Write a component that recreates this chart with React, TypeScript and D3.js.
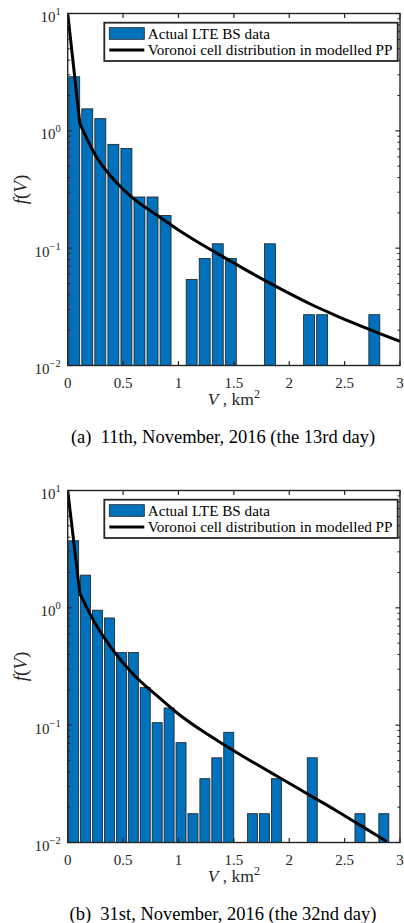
import * as d3 from 'd3'

// bin widths of the two histograms, km^2
const binWidthA = 0.1178
const binWidthB = 0.1077

// histogram densities, one value per bin starting at V = 0 (0 = empty bin)
const densityA = [
  2.89, 1.54, 1.27, 0.767, 0.709, 0.273, 0.273, 0.19, 0, 0.0542, 0.0817, 0.109,
  0.0817, 0, 0, 0.109, 0, 0, 0.0271, 0.0271, 0, 0, 0, 0.0271,
]
const densityB = [
  3.73, 1.9, 0.955, 0.82, 0.416, 0.416, 0.209, 0.105, 0.14, 0.071, 0.0176, 0.035,
  0.0527, 0.087, 0, 0.0176, 0.0176, 0.035, 0, 0, 0.0527, 0, 0, 0, 0.0176, 0, 0.0176,
]

// modelled Voronoi cell pdf
const curveAV = [0, 0.11, 0.25, 0.38, 0.5, 0.6, 0.8, 1.0, 1.2, 1.4, 1.6, 1.8, 2.0, 2.2, 2.4, 2.6, 2.8, 3.0]
const curveAF = [10, 1.15, 0.62, 0.42, 0.318, 0.262, 0.193, 0.143, 0.109, 0.0847, 0.066, 0.0519, 0.0412, 0.0331, 0.0272, 0.0226, 0.019, 0.0161]
const curveBV = [0, 0.11, 0.25, 0.4, 0.6, 0.8, 1.0, 1.2, 1.4, 1.6, 1.8, 2.0, 2.2, 2.4, 2.6, 2.8, 2.88]
const curveBF = [10, 1.32, 0.73, 0.447, 0.266, 0.18, 0.1245, 0.0912, 0.0692, 0.0531, 0.0412, 0.032, 0.0248, 0.0193, 0.0148, 0.01135, 0.0102]

const xTicks = [0, 0.5, 1, 1.5, 2, 2.5, 3]
const xTickLabels = ['0', '0.5', '1', '1.5', '2', '2.5', '3']
const yTicks = [1e-2, 1e-1, 1, 10]
const yTickExp = ['-2', '-1', '0', '1']

const legendLabels = ['Actual LTE BS data', 'Voronoi cell distribution in modelled PP']
const captions = [
  '(a)\u00a0\u00a011th, November, 2016 (the 13rd day)',
  '(b)\u00a0\u00a031st, November, 2016 (the 32nd day)',
]

const FONT = "'Liberation Serif', 'Times New Roman', serif"
const BLUE = '#0072BD'
const AXIS = '#262626'

interface PanelProps {
  top: number
  density: number[]
  binWidth: number
  curveV: number[]
  curveF: number[]
  caption: string
  id: string
}

const left = 67.7
const right = 400
const plotH = 352

function Panel({ top, density, binWidth, curveV, curveF, caption, id }: PanelProps) {
  const bottom = top + plotH
  const x = d3.scaleLinear().domain([0, 3]).range([left, right])
  const y = d3.scaleLog().domain([1e-2, 10]).range([bottom, top])

  const minor: number[] = []
  for (let e = -2; e < 1; e++) {
    for (let m = 2; m <= 9; m++) minor.push(m * Math.pow(10, e))
  }

  const pts = curveV.map((v, i) => [v, curveF[i]] as [number, number])
  // steep first step is straight, the tail is smooth
  const straight = d3.line<[number, number]>().x(d => x(d[0])).y(d => y(d[1]))
  const smooth = d3.line<[number, number]>()
    .x(d => x(d[0]))
    .y(d => y(d[1]))
    .curve(d3.curveMonotoneX)

  const barW = binWidth * 0.84
  const midY = (top + bottom) / 2
  const lx = left + 36.6
  const ly = top + 9.2

  return (
    <g>
      <defs>
        <clipPath id={`clip-${id}`}>
          <rect x={left} y={top} width={right - left} height={plotH} />
        </clipPath>
      </defs>
      {/* bars */}
      {density.map((d, i) => {
        if (d <= 0) return null
        const c = (i + 0.5) * binWidth
        return (
          <rect
            key={i}
            x={x(c - barW / 2)}
            y={y(d)}
            width={x(c + barW / 2) - x(c - barW / 2)}
            height={y(1e-2) - y(d)}
            fill={BLUE}
            stroke="#1e1e1e"
            strokeWidth={0.8}
          />
        )
      })}
      <g clipPath={`url(#clip-${id})`} fill="none" stroke="#000" strokeWidth={3}>
        <path d={straight(pts.slice(0, 2)) || ''} />
        <path d={smooth(pts.slice(1)) || ''} />
      </g>
      {/* frame */}
      <rect x={left} y={top} width={right - left} height={plotH} fill="none" stroke={AXIS} strokeWidth={1.4} />
      {xTicks.map((t, i) => (
        <g key={'x' + i}>
          <line x1={x(t)} x2={x(t)} y1={bottom} y2={bottom - 4.5} stroke={AXIS} strokeWidth={1.2} />
          <line x1={x(t)} x2={x(t)} y1={top} y2={top + 4.5} stroke={AXIS} strokeWidth={1.2} />
          <text x={x(t)} y={bottom + 22} textAnchor="middle" fontFamily={FONT} fontSize={15} fill={AXIS}>
            {xTickLabels[i]}
          </text>
        </g>
      ))}
      {yTicks.map((t, i) => (
        <g key={'y' + i}>
          <line x1={left} x2={left + 4.5} y1={y(t)} y2={y(t)} stroke={AXIS} strokeWidth={1.2} />
          <line x1={right} x2={right - 4.5} y1={y(t)} y2={y(t)} stroke={AXIS} strokeWidth={1.2} />
          <text x={left - 7} y={y(t) + 8.5} textAnchor="end" fontFamily={FONT} fontSize={15} fill={AXIS}>
            10
            <tspan dy={-7} fontSize={10.5}>{yTickExp[i].replace('-', '\u2212')}</tspan>
          </text>
        </g>
      ))}
      {minor.map((t, i) => (
        <g key={'m' + i}>
          <line x1={left} x2={left + 2.6} y1={y(t)} y2={y(t)} stroke={AXIS} strokeWidth={1} />
          <line x1={right} x2={right - 2.6} y1={y(t)} y2={y(t)} stroke={AXIS} strokeWidth={1} />
        </g>
      ))}
      {/* axis labels */}
      <text
        transform={`translate(27,${midY}) rotate(-90)`}
        textAnchor="middle"
        fontFamily={FONT}
        fontSize={19}
        fill={AXIS}
      >
        <tspan fontStyle="italic">f</tspan>(<tspan fontStyle="italic">V</tspan>)
      </text>
      <text x={(left + right) / 2} y={bottom + 39.5} textAnchor="middle" fontFamily={FONT} fontSize={17.5} fill={AXIS}>
        <tspan fontStyle="italic">V</tspan> , km
        <tspan dy={-7} fontSize={12}>2</tspan>
      </text>
      {/* legend */}
      <rect x={lx} y={ly} width={right - 2.3 - lx} height={38.3} fill="#fff" stroke={AXIS} strokeWidth={1.8} />
      <rect x={lx + 5} y={ly + 5} width={35} height={11.6} fill={BLUE} stroke="#1e1e1e" strokeWidth={0.8} />
      <line x1={lx + 5} x2={lx + 40} y1={ly + 27.3} y2={ly + 27.3} stroke="#000" strokeWidth={3} />
      <text x={lx + 43.4} y={ly + 16.3} fontFamily={FONT} fontSize={15.2} fill="#000">{legendLabels[0]}</text>
      <text x={lx + 43.4} y={ly + 32.3} fontFamily={FONT} fontSize={15.2} fill="#000">{legendLabels[1]}</text>
      {/* caption */}
      <text x={223} y={bottom + 77.5} textAnchor="middle" fontFamily={FONT} fontSize={18.5} fill="#000">
        {caption}
      </text>
    </g>
  )
}

export default function App() {
  return (
    <svg
      width={404}
      height={923}
      style={{ position: 'absolute', left: 0, top: 0, background: '#fff' }}
    >
      <rect width={404} height={923} fill="#fff" />
      <Panel top={13.5} density={densityA} binWidth={binWidthA} curveV={curveAV} curveF={curveAF} caption={captions[0]} id="a" />
      <Panel top={490.5} density={densityB} binWidth={binWidthB} curveV={curveBV} curveF={curveBF} caption={captions[1]} id="b" />
    </svg>
  )
}
